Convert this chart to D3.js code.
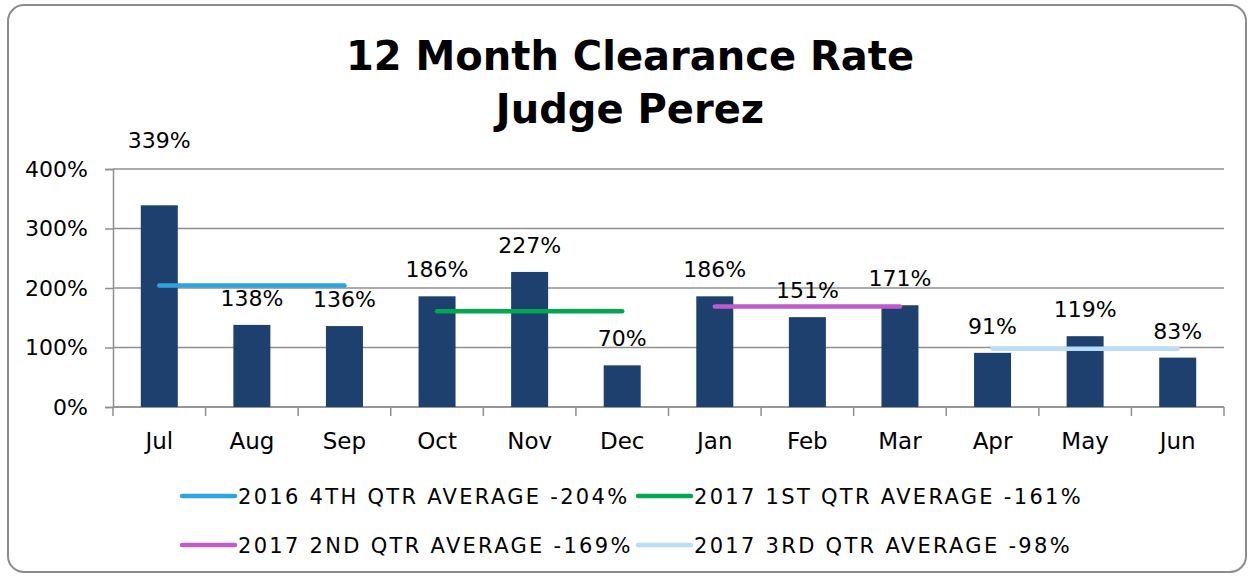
<!DOCTYPE html>
<html>
<head>
<meta charset="utf-8">
<script src="https://cdn.jsdelivr.net/npm/d3@7"></script>
<style>
  body { margin: 0; background: #fff; }
  text { font-family: "DejaVu Sans", sans-serif; fill: #000; }
</style>
</head>
<body>
<div id="chart-area"></div>
<script>
// chart data
var months = ["Jul", "Aug", "Sep", "Oct", "Nov", "Dec", "Jan", "Feb", "Mar", "Apr", "May", "Jun"];
var rates = [339, 138, 136, 186, 227, 70, 186, 151, 171, 91, 119, 83];
var yTicks = [0, 100, 200, 300, 400];

// quarter averages: label, first month, last month, value
var qtrLabels = ["2016 4TH QTR AVERAGE -204%", "2017 1ST QTR AVERAGE -161%",
                 "2017 2ND QTR AVERAGE -169%", "2017 3RD QTR AVERAGE -98%"];
var qtrStart = ["Jul", "Oct", "Jan", "Apr"];
var qtrEnd = ["Sep", "Dec", "Mar", "Jun"];
var qtrValues = [204, 161, 169, 98];
var qtrColors = ["#2fa3e0", "#00a84f", "#c05bcb", "#bbdcf7"];

var width = 1254,
    height = 577;
var margin = {top: 169, right: 30, bottom: 170, left: 113};
var plotW = width - margin.left - margin.right,
    plotH = height - margin.top - margin.bottom;

var svg = d3.select("#chart-area")
    .append("svg")
    .attr("width", width)
    .attr("height", height);

// outer frame
svg.append("rect")
    .attr("x", 8)
    .attr("y", 5)
    .attr("width", 1238)
    .attr("height", 567)
    .attr("rx", 16)
    .attr("fill", "#fff")
    .attr("stroke", "#8c8c8c")
    .attr("stroke-width", 2);

// title
svg.append("text")
    .attr("x", 630)
    .attr("y", 70)
    .attr("text-anchor", "middle")
    .style("font-size", "40px")
    .style("font-weight", "bold")
    .text("12 Month Clearance Rate");

svg.append("text")
    .attr("x", 630)
    .attr("y", 123)
    .attr("text-anchor", "middle")
    .style("font-size", "40px")
    .style("font-weight", "bold")
    .text("Judge Perez");

var g = svg.append("g")
    .attr("transform", "translate(" + margin.left + "," + margin.top + ")");

var x = d3.scaleBand()
    .domain(months)
    .range([0, plotW]);

var y = d3.scaleLinear()
    .domain([0, 400])
    .range([plotH, 0]);

// gridlines
g.selectAll(".grid")
    .data(yTicks)
    .enter()
    .append("line")
    .attr("class", "grid")
    .attr("x1", 0)
    .attr("x2", plotW)
    .attr("y1", function(d) { return y(d); })
    .attr("y2", function(d) { return y(d); })
    .attr("stroke", "#8f8f8f")
    .attr("stroke-width", 1.5);

// y axis
var yAxis = d3.axisLeft(y)
    .tickValues(yTicks)
    .tickSize(8)
    .tickPadding(17)
    .tickFormat(function(d) { return d + "%"; });

var yG = g.append("g").call(yAxis);
yG.select(".domain").attr("stroke", "#8f8f8f").attr("stroke-width", 1.5);
yG.selectAll(".tick line").attr("stroke", "#8f8f8f").attr("stroke-width", 1.5);
yG.selectAll(".tick text")
    .style("font-size", "22px")
    .style("font-family", "DejaVu Sans, sans-serif")
    .attr("fill", "#000");

// x axis: ticks between the categories
var xG = g.append("g")
    .attr("transform", "translate(0," + plotH + ")");

xG.append("line")
    .attr("x1", 0)
    .attr("x2", plotW)
    .attr("stroke", "#8f8f8f")
    .attr("stroke-width", 1.5);

var bounds = months.map(function(m) { return x(m); }).concat([plotW]);
xG.selectAll(".xtick")
    .data(bounds)
    .enter()
    .append("line")
    .attr("class", "xtick")
    .attr("x1", function(d) { return d; })
    .attr("x2", function(d) { return d; })
    .attr("y1", 0)
    .attr("y2", 9)
    .attr("stroke", "#8f8f8f")
    .attr("stroke-width", 1.5);

xG.selectAll(".xlabel")
    .data(months)
    .enter()
    .append("text")
    .attr("class", "xlabel")
    .attr("x", function(d) { return x(d) + x.bandwidth() / 2; })
    .attr("y", 42)
    .attr("text-anchor", "middle")
    .style("font-size", "23px")
    .text(function(d) { return d; });

// bars
var barW = 37;
g.selectAll(".bar")
    .data(rates)
    .enter()
    .append("rect")
    .attr("class", "bar")
    .attr("x", function(d, i) { return x(months[i]) + x.bandwidth() / 2 - barW / 2; })
    .attr("y", function(d) { return y(d); })
    .attr("width", barW)
    .attr("height", function(d) { return plotH - y(d); })
    .attr("fill", "#1d406f");

// quarter average lines
g.selectAll(".avg")
    .data(qtrValues)
    .enter()
    .append("line")
    .attr("class", "avg")
    .attr("x1", function(d, i) { return x(qtrStart[i]) + x.bandwidth() / 2; })
    .attr("x2", function(d, i) { return x(qtrEnd[i]) + x.bandwidth() / 2; })
    .attr("y1", function(d) { return y(d); })
    .attr("y2", function(d) { return y(d); })
    .attr("stroke", function(d, i) { return qtrColors[i]; })
    .attr("stroke-width", 4.5)
    .attr("stroke-linecap", "round");

// data labels (the first one sits higher in the original)
g.selectAll(".label")
    .data(rates)
    .enter()
    .append("text")
    .attr("class", "label")
    .attr("x", function(d, i) { return x(months[i]) + x.bandwidth() / 2; })
    .attr("y", function(d, i) { return y(d) - 19 - (i === 0 ? 38 : 0); })
    .attr("text-anchor", "middle")
    .style("font-size", "22px")
    .text(function(d) { return d + "%"; });

// legend
var legend = svg.append("g");
var items = legend.selectAll(".item")
    .data(qtrLabels)
    .enter()
    .append("g")
    .attr("class", "item")
    .attr("transform", function(d, i) {
        return "translate(" + (180 + (i % 2) * 456) + "," + (496 + Math.floor(i / 2) * 49) + ")";
    });

items.append("line")
    .attr("x1", 2)
    .attr("x2", 55)
    .attr("stroke", function(d, i) { return qtrColors[i]; })
    .attr("stroke-width", 4.5)
    .attr("stroke-linecap", "round");

items.append("text")
    .attr("x", 58)
    .attr("y", 8)
    .style("font-size", "21px")
    .style("letter-spacing", "2.3px")
    .text(function(d) { return d; });
</script>
</body>
</html>
